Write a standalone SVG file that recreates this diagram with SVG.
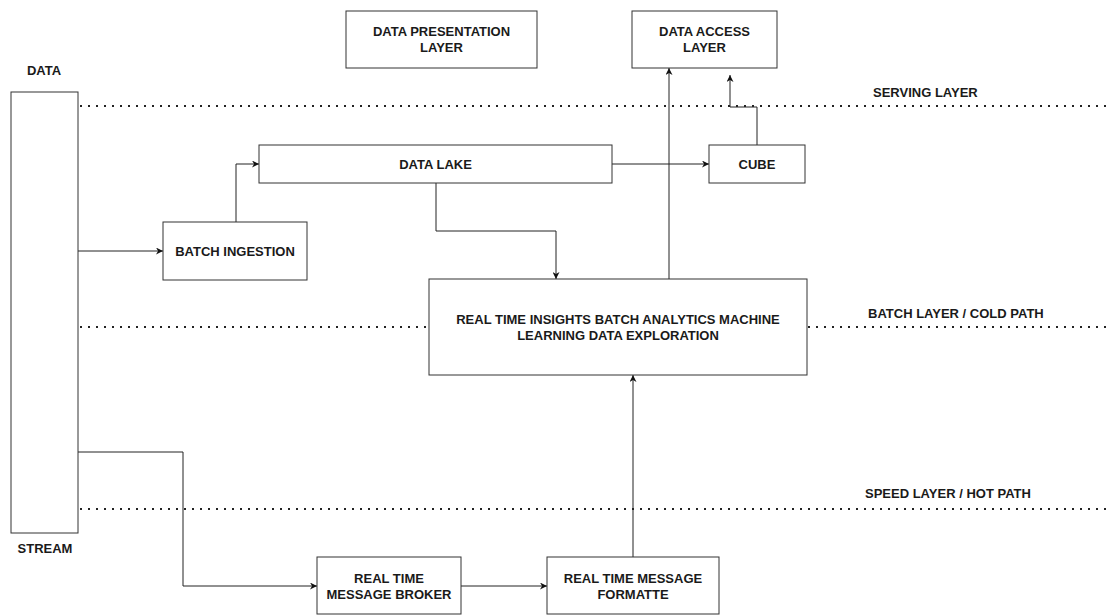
<svg xmlns="http://www.w3.org/2000/svg" width="1110" height="615" viewBox="0 0 1110 615">
<style>
.box{fill:#ffffff;stroke:#333333;stroke-width:1}
.t{font-family:"Liberation Sans",Arial,sans-serif;font-size:13px;font-weight:bold;fill:#1a1a1a;text-anchor:middle}
.tl{font-family:"Liberation Sans",Arial,sans-serif;font-size:13px;font-weight:bold;fill:#1a1a1a}
.dot{stroke:#222222;stroke-width:2;stroke-dasharray:2 6;fill:none}
.c{stroke:#222222;stroke-width:1;fill:none}
</style>
<defs>
<marker id="ah" viewBox="0 0 10 10" refX="10" refY="5" markerWidth="7" markerHeight="7" orient="auto" markerUnits="userSpaceOnUse">
<path d="M0,0 L10,5 L0,10 L3,5 Z" fill="#111111"/>
</marker>
</defs>
<rect width="1110" height="615" fill="#ffffff"/>
<g id="layers">
<line class="dot" x1="80" y1="106" x2="1110" y2="106"/>
<line class="dot" x1="80" y1="327" x2="1110" y2="327"/>
<line class="dot" x1="80" y1="509" x2="1110" y2="509"/>
<text class="tl" x="873" y="97">SERVING LAYER</text>
<text class="tl" x="868" y="318">BATCH LAYER / COLD PATH</text>
<text class="tl" x="865" y="498">SPEED LAYER / HOT PATH</text>
</g>
<g id="connectors">
<path class="c" d="M78,251 H163" marker-end="url(#ah)"/>
<path class="c" d="M236,222 V164 H259" marker-end="url(#ah)"/>
<path class="c" d="M612,164 H709" marker-end="url(#ah)"/>
<path class="c" d="M757,145 V107 H730 V75" marker-end="url(#ah)"/>
<path class="c" d="M669,279 V68" marker-end="url(#ah)"/>
<path class="c" d="M436,183 V231 H556 V279" marker-end="url(#ah)"/>
<path class="c" d="M78,452 H183 V586 H317" marker-end="url(#ah)"/>
<path class="c" d="M461,586 H547" marker-end="url(#ah)"/>
<path class="c" d="M633,557 V375" marker-end="url(#ah)"/>
</g>
<g id="data-stream">
<rect class="box" x="11" y="92" width="67" height="441"/>
<text class="t" x="44" y="75">DATA</text>
<text class="t" x="45" y="553">STREAM</text>
</g>
<g id="data-presentation">
<rect class="box" x="346" y="11" width="191" height="57"/>
<text class="t" x="441.5" y="36">DATA PRESENTATION</text>
<text class="t" x="441.5" y="52">LAYER</text>
</g>
<g id="data-access">
<rect class="box" x="632" y="11" width="145" height="57"/>
<text class="t" x="704.5" y="36">DATA ACCESS</text>
<text class="t" x="704.5" y="52">LAYER</text>
</g>
<g id="data-lake">
<rect class="box" x="259" y="145" width="353" height="38"/>
<text class="t" x="435.5" y="169">DATA LAKE</text>
</g>
<g id="cube">
<rect class="box" x="709" y="145" width="96" height="38"/>
<text class="t" x="757" y="169">CUBE</text>
</g>
<g id="batch-ingestion">
<rect class="box" x="163" y="222" width="144" height="58"/>
<text class="t" x="235" y="256">BATCH INGESTION</text>
</g>
<g id="analytics">
<rect class="box" x="429" y="279" width="378" height="96"/>
<text class="t" x="618" y="324">REAL TIME INSIGHTS BATCH ANALYTICS MACHINE</text>
<text class="t" x="618" y="340">LEARNING DATA EXPLORATION</text>
</g>
<g id="message-broker">
<rect class="box" x="317" y="557" width="144" height="57"/>
<text class="t" x="389" y="583">REAL TIME</text>
<text class="t" x="389" y="599">MESSAGE BROKER</text>
</g>
<g id="message-formatter">
<rect class="box" x="547" y="557" width="172" height="57"/>
<text class="t" x="633" y="583">REAL TIME MESSAGE</text>
<text class="t" x="633" y="599">FORMATTE</text>
</g>
</svg>
